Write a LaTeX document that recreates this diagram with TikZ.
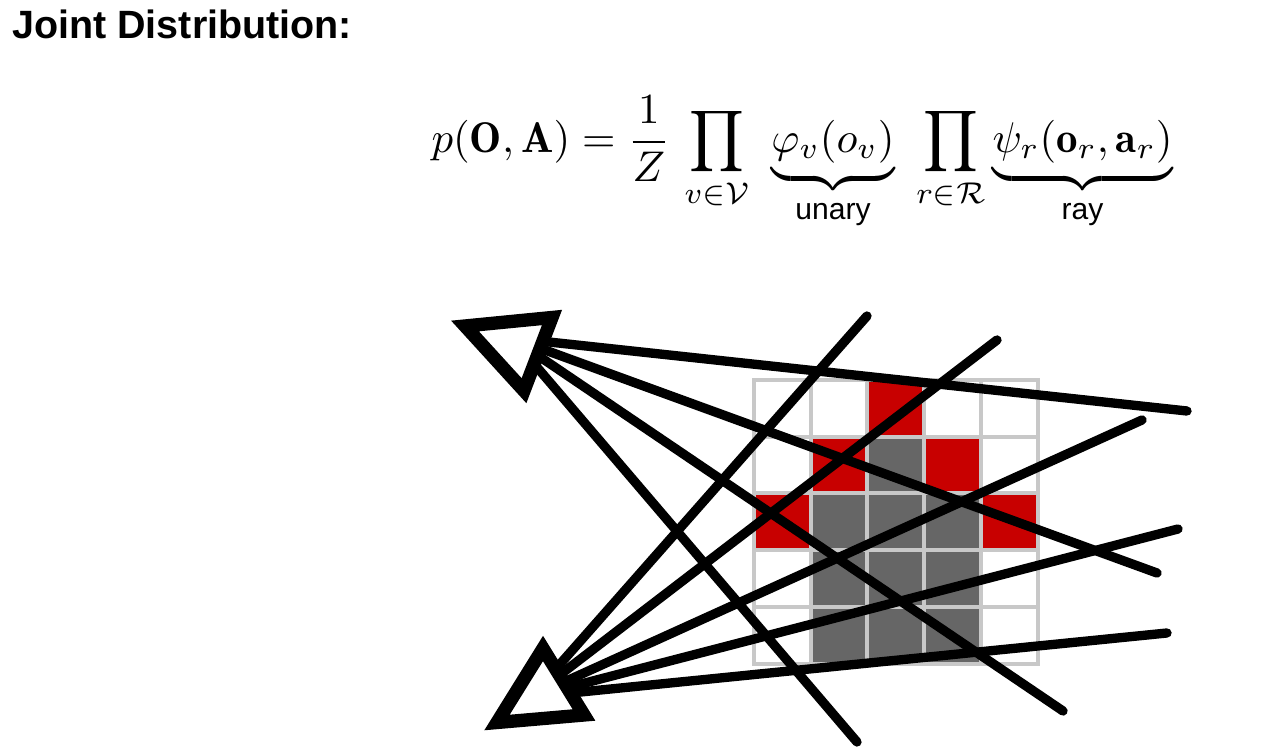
\documentclass[tikz,border=0pt]{standalone}
\usepackage{amsmath}
\usepackage{fontspec}
\newfontfamily\headfont{Liberation Sans}
\definecolor{occred}{HTML}{C80000}
\definecolor{occgray}{HTML}{666666}
\definecolor{gridgray}{HTML}{C8C8C8}
\begin{document}
\begin{tikzpicture}[
    x=0.75pt,
    y=-0.75pt,
    title/.style={anchor=west, inner sep=0pt, font=\headfont\bfseries\fontsize{29.6}{34}\selectfont},
    formula/.style={inner sep=0pt, scale=3.22},
    cellred/.style={fill=occred},
    cellgray/.style={fill=occgray},
    gridline/.style={draw=gridgray, line width=3pt, line cap=rect},
    ray/.style={draw, line width=7pt, line cap=round},
    camera/.style={draw, fill=white, line width=10pt, miter limit=10}
]
    \useasboundingbox (0,0) rectangle (1279,755);
    \node[title] (heading) at (12,24) {Joint Distribution:};
    \node[formula] (joint) at (802,163) {$\displaystyle p(\mathbf{O},\mathbf{A})=\frac{1}{Z}\,\prod_{v\in\mathcal{V}}\,\,\underbrace{\varphi_v(o_v)}_{\text{\headfont unary}}\,\,\prod_{r\in\mathcal{R}}\underbrace{\psi_r(\mathbf{o}_r,\mathbf{a}_r)}_{\text{\headfont ray}}$};
    \foreach \col/\row in {2/0, 1/1, 3/1, 0/2, 4/2}
        \fill[cellred] ({753.7+56.8*\col},{380+56.7*\row}) rectangle +(56.8,56.7);
    \foreach \col/\row in {2/1, 1/2, 2/2, 3/2, 1/3, 2/3, 3/3, 1/4, 2/4, 3/4}
        \fill[cellgray] ({753.7+56.8*\col},{380+56.7*\row}) rectangle +(56.8,56.7);
    \foreach \i in {0,...,5} {
        \draw[gridline] ({753.7+56.8*\i},380) -- ({753.7+56.8*\i},663.5);
        \draw[gridline] (753.7,{380+56.7*\i}) -- (1037.7,{380+56.7*\i});
    }
    \coordinate (camtop) at (512,338);
    \coordinate (cambot) at (531,697);
    \foreach \name/\x/\y in {a/1187/411, b/1157/573, c/1063/711, d/857/742} {
        \coordinate (top\name) at (\x,\y);
        \draw[ray] (camtop) -- (top\name);
    }
    \foreach \name/\x/\y in {a/867/316, b/997/340, c/1142/420, d/1178/529, e/1167/633} {
        \coordinate (bot\name) at (\x,\y);
        \draw[ray] (cambot) -- (bot\name);
    }
    \draw[camera] (465,326) -- (552,317.5) -- (524,390.7) -- cycle;
    \draw[camera] (543,648.5) -- (497,722.5) -- (584,715) -- cycle;
\end{tikzpicture}
\end{document}
